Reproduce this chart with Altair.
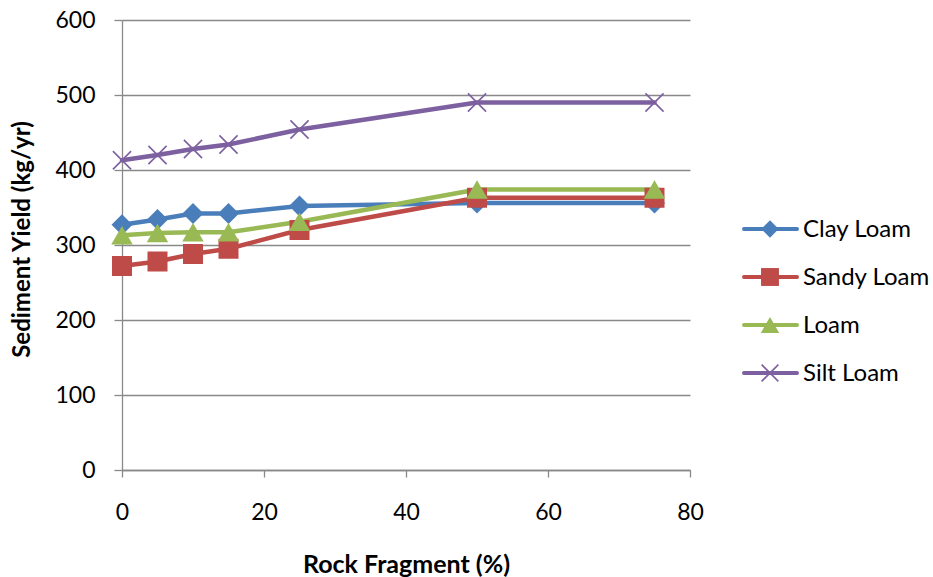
import altair as alt
import pandas as pd

# ---- data ----
rock_fragment = [0, 5, 10, 15, 25, 50, 75]
clay_loam = [327, 334, 342, 342, 352, 356, 356]
sandy_loam = [272, 278, 288, 295, 320, 363, 363]
loam = [313, 316, 317, 317, 331, 374, 374]
silt_loam = [413, 420, 428, 434, 454, 490, 490]
series_names = ["Clay Loam", "Sandy Loam", "Loam", "Silt Loam"]
legend_order = [0, 1, 2, 3]
x_ticks = [0, 20, 40, 60, 80]
y_ticks = [0, 100, 200, 300, 400, 500, 600]

# ---- styles ----
colors = ["#4A7EBB", "#BE4B48", "#98B954", "#7D60A0"]
X_PATH = "M-1,-1L1,1M1,-1L-1,1"
shapes = ["diamond", "square", "triangle-up", X_PATH]
sizes = [440, 400, 460, 330]
legend_sizes = [300, 320, 340, 280]
FONT = "Lato"
GRID = "#898989"

rows = []
for name, vals in zip(series_names, [clay_loam, sandy_loam, loam, silt_loam]):
    for xv, yv in zip(rock_fragment, vals):
        rows.append({"x": xv, "y": yv, "series": name})
df = pd.DataFrame(rows)
leg_df = pd.DataFrame({"series": series_names, "i": legend_order})

color_scale = alt.Scale(domain=series_names, range=colors)

x_enc = alt.X(
    "x:Q",
    scale=alt.Scale(domain=[0, 80], nice=False),
    axis=alt.Axis(
        values=x_ticks, grid=False, tickSize=7, tickColor=GRID, domainColor=GRID,
        domainWidth=1.3, tickWidth=1.3, labelFlush=False,
        labelFont=FONT, labelFontSize=23, labelColor="black", labelPadding=24,
        title="Rock Fragment (%)", titleFont=FONT, titleFontSize=25,
        titleFontWeight="bold", titleColor="black", titleY=102,
        titleBaseline="alphabetic",
    ),
)
y_enc = alt.Y(
    "y:Q",
    scale=alt.Scale(domain=[0, 600], nice=False),
    axis=alt.Axis(
        values=y_ticks, grid=True, gridColor=GRID, gridWidth=1.3, tickSize=8,
        tickColor=GRID, domainColor=GRID, domainWidth=1.3, tickWidth=1.3,
        labelFont=FONT, labelFontSize=23, labelColor="black", labelPadding=19,
        title="Sediment Yield (kg/yr)", titleFont=FONT, titleFontSize=24,
        titleFontWeight="bold", titleColor="black", titleX=-93, titleY=219,
        titleBaseline="alphabetic", titleAngle=270,
    ),
)

base = alt.Chart(df)
lines = base.mark_line(strokeWidth=4.5, strokeCap="round", strokeJoin="round").encode(
    x=x_enc, y=y_enc,
    color=alt.Color("series:N", scale=color_scale, legend=None),
    order=alt.Order("x:Q"),
)

layers = [lines]
for i, name in enumerate(series_names):
    filled = shapes[i] != X_PATH
    pt = base.transform_filter(alt.datum.series == name).mark_point(
        shape=shapes[i], size=sizes[i], filled=filled, opacity=1,
        color=colors[i], strokeWidth=1.6,
    ).encode(x="x:Q", y="y:Q")
    layers.append(pt)

main = alt.layer(*layers)

leg_y = alt.Y(
    "i:Q",
    scale=alt.Scale(domain=[0, 3], range=[209, 353], nice=False, zero=False),
    axis=None,
)
leg_base = alt.Chart(leg_df)
leg_rule = leg_base.mark_rule(strokeWidth=4, strokeCap="round").encode(
    x=alt.value(622), x2=alt.value(675), y=leg_y,
    color=alt.Color("series:N", scale=color_scale, legend=None),
)
leg_layers = [leg_rule]
for i, name in enumerate(series_names):
    filled = shapes[i] != X_PATH
    leg_layers.append(
        leg_base.transform_filter(alt.datum.series == name).mark_point(
            shape=shapes[i], size=legend_sizes[i], filled=filled, opacity=1,
            color=colors[i], strokeWidth=1.6,
        ).encode(x=alt.value(648), y=leg_y)
    )
leg_text = leg_base.mark_text(
    align="left", baseline="alphabetic", dy=8, font=FONT, fontSize=24, color="black"
).encode(x=alt.value(681), y=leg_y, text="series:N")
leg_layers.append(leg_text)
legend = alt.layer(*leg_layers)

chart = (
    alt.layer(main, legend)
    .resolve_scale(y="independent")
    .properties(
        width=568, height=450,
        padding={"left": 122, "top": 20, "right": 243, "bottom": 107},
        autosize=alt.AutoSizeParams(type="none"),
        background="white",
    )
    .configure_view(stroke=None)
)

chart.save("out.html", embed_options={"renderer": "svg", "actions": False})
